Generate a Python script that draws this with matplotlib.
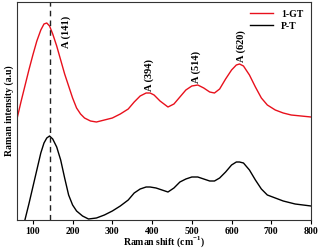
import matplotlib
matplotlib.use("Agg")
import matplotlib.pyplot as plt

# Raman shift (cm-1) and intensity (a.u.)
wave_gt = [60, 70, 80, 90, 100, 110, 120, 128, 135, 142, 150, 160, 170, 180, 190,
           200, 210, 220, 230, 245, 260, 280, 300, 320, 340, 355, 370, 385, 395,
           405, 420, 440, 455, 470, 485, 500, 515, 530, 545, 557, 570, 585, 600,
           612, 620, 630, 645, 660, 675, 690, 710, 730, 750, 775, 800]
int_gt = [101, 118, 134, 150, 165, 179, 190, 196, 197, 194, 186, 174, 160, 146, 134,
          122, 112, 106, 102, 99, 98, 100, 102, 106, 111, 118, 124, 127, 127,
          125, 119, 113, 116, 123, 130, 134, 135, 132, 128, 127, 131, 141, 150,
          155, 156, 154, 145, 133, 122, 115, 110, 107, 105, 104, 103]

wave_pt = [80, 90, 100, 110, 120, 128, 135, 142, 150, 160, 170, 180, 190, 200, 210,
           225, 240, 260, 280, 300, 320, 340, 355, 370, 385, 395, 410, 425, 440,
           455, 470, 485, 500, 515, 530, 545, 557, 570, 585, 600, 612, 620, 630,
           645, 660, 675, 690, 710, 730, 760, 800]
int_pt = [0, 16, 33, 50, 67, 77, 82, 84, 81, 73, 60, 42, 25, 15, 9,
          4, 1, 2, 5, 9, 14, 20, 27, 31, 33, 33, 32, 30, 28,
          32, 38, 41, 43, 43, 41, 39, 39, 42, 48, 55, 58, 58, 57,
          50, 40, 31, 25, 22, 19, 16, 14]

peak_labels = ["A (141)", "A (394)", "A (514)", "A (620)"]
peak_x = [184, 392, 512, 624]
peak_y = [172, 129, 137, 158]

plt.rcParams['font.family'] = ['Liberation Serif', 'DejaVu Serif']
plt.rcParams['font.weight'] = 'bold'
plt.rcParams['mathtext.fontset'] = 'custom'
plt.rcParams['mathtext.rm'] = 'Liberation Serif:bold'
plt.rcParams['mathtext.bf'] = 'Liberation Serif:bold'

fig = plt.figure(figsize=(3.2, 2.5), dpi=100)
ax = fig.add_axes([0.053, 0.12, 0.919, 0.872])

ax.plot(wave_gt, int_gt, color='#e8101c', lw=1.0, label='1-GT')
ax.plot(wave_pt, int_pt, color='black', lw=1.0, label='P-T')
ax.axvline(142, color='#222222', lw=1.0, ls=(0, (4, 3)))

for lab, x, y in zip(peak_labels, peak_x, peak_y):
    ax.text(x, y, lab, rotation=90, ha='center', va='bottom',
            fontsize=7.5, fontweight='bold')

ax.set_xlim(60, 800)
ax.set_ylim(0, 218)
ax.set_xticks([100, 200, 300, 400, 500, 600, 700, 800])
ax.set_yticks([])
ax.tick_params(axis='x', labelsize=7, length=3, width=0.8, pad=2)
for lbl in ax.get_xticklabels():
    lbl.set_fontweight('bold')
for sp in ax.spines.values():
    sp.set_linewidth(0.8)
    sp.set_color('#333333')

ax.set_xlabel('Raman shift (cm$^{-1}$)', fontsize=7, fontweight='bold', va='center')
ax.xaxis.set_label_coords(0.5, -0.1)
ax.set_ylabel('Raman intensity (a.u)', fontsize=7, fontweight='bold', labelpad=2)

leg = ax.legend(loc='upper right', frameon=False, fontsize=7, handlelength=2.4,
                borderaxespad=0.4, labelspacing=0.3)
for t in leg.get_texts():
    t.set_fontweight('bold')

fig.savefig('out.png', dpi=100)
